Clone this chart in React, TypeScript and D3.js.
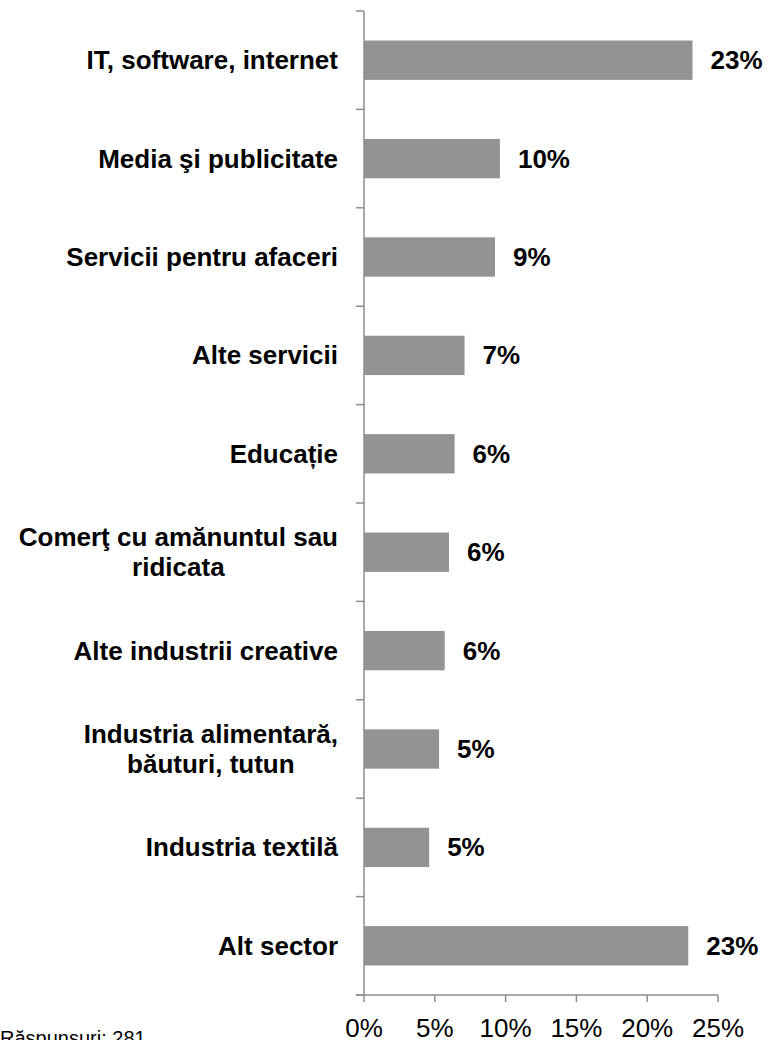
import React, { useEffect, useRef } from "react";
import * as d3 from "d3";

const categories: string[][] = [
  ["IT, software, internet"],
  ["Media şi publicitate"],
  ["Servicii pentru afaceri"],
  ["Alte servicii"],
  ["Educație"],
  ["Comerţ cu amănuntul sau", "ridicata"],
  ["Alte industrii creative"],
  ["Industria alimentară,", "băuturi, tutun"],
  ["Industria textilă"],
  ["Alt sector"],
];
const values: number[] = [23.2, 9.6, 9.25, 7.1, 6.4, 6.0, 5.7, 5.3, 4.6, 22.9];
const xTicks: number[] = [0, 5, 10, 15, 20, 25];
const footnote = "Răspunsuri: 281";

const W = 768;
const H = 1040;
const FONT = "'Liberation Sans', Arial, Helvetica, sans-serif";
const AXIS = "#8e8e8e";
const BAR = "#939393";

export default function App() {
  const ref = useRef<SVGSVGElement>(null);

  useEffect(() => {
    const svg = d3.select(ref.current);
    svg.selectAll("*").remove();

    const x = d3.scaleLinear().domain([0, 25]).range([364, 718]);
    const y = d3
      .scaleBand<number>()
      .domain(d3.range(categories.length))
      .range([11, 995])
      .paddingInner(0.6)
      .paddingOuter(0.3);

    const step = y.step();
    const top = 11;
    const bottom = 995;

    // bars
    svg
      .append("g")
      .selectAll("rect")
      .data(values)
      .join("rect")
      .attr("x", x(0))
      .attr("y", (_, i) => y(i)!)
      .attr("width", (d) => x(d) - x(0))
      .attr("height", y.bandwidth())
      .attr("fill", BAR);

    // axes
    const g = svg.append("g").attr("stroke", AXIS).attr("stroke-width", 1.5);
    g.append("line")
      .attr("x1", x(0))
      .attr("x2", x(0))
      .attr("y1", top)
      .attr("y2", bottom);
    g.selectAll("line.yt")
      .data(d3.range(categories.length + 1))
      .join("line")
      .attr("class", "yt")
      .attr("x1", x(0) - 8)
      .attr("x2", x(0))
      .attr("y1", (i) => top + i * step)
      .attr("y2", (i) => top + i * step);
    g.append("line")
      .attr("x1", x(0) - 8)
      .attr("x2", x(25))
      .attr("y1", bottom)
      .attr("y2", bottom);
    g.selectAll("line.xt")
      .data(xTicks)
      .join("line")
      .attr("class", "xt")
      .attr("x1", (d) => x(d))
      .attr("x2", (d) => x(d))
      .attr("y1", bottom)
      .attr("y2", bottom + 7);

    // x tick labels
    svg
      .append("g")
      .selectAll("text")
      .data(xTicks)
      .join("text")
      .attr("x", (d) => x(d))
      .attr("y", 1037)
      .attr("text-anchor", "middle")
      .attr("font-family", FONT)
      .attr("font-size", 26)
      .attr("fill", "#000")
      .text((d) => `${d}%`);

    // value labels
    svg
      .append("g")
      .selectAll("text")
      .data(values)
      .join("text")
      .attr("x", (d) => x(d) + 18)
      .attr("y", (_, i) => y(i)! + y.bandwidth() / 2 + 9)
      .attr("font-family", FONT)
      .attr("font-size", 26)
      .attr("font-weight", "bold")
      .attr("fill", "#000")
      .text((d) => `${Math.round(d)}%`);

    // category labels
    const right = 338;
    const lineH = 30;
    categories.forEach((lines, i) => {
      const cy = y(i)! + y.bandwidth() / 2;
      const grp = svg.append("g");
      const texts = lines.map((ln, k) =>
        grp
          .append("text")
          .attr("font-family", FONT)
          .attr("font-size", 26)
          .attr("font-weight", "bold")
          .attr("fill", "#000")
          .attr("y", cy + 9 + (k - (lines.length - 1) / 2) * lineH)
          .text(ln)
      );
      const widths = texts.map((t) => (t.node() as SVGTextElement).getComputedTextLength());
      const maxW = Math.max(...widths);
      const center = right - maxW / 2;
      texts.forEach((t) => t.attr("x", center).attr("text-anchor", "middle"));
    });

    // footnote
    svg
      .append("text")
      .attr("x", 0)
      .attr("y", 1045)
      .attr("font-family", FONT)
      .attr("font-size", 20)
      .attr("fill", "#000")
      .text(footnote);
  }, []);

  return (
    <svg
      ref={ref}
      width={W}
      height={H}
      style={{ position: "absolute", left: 0, top: 0, background: "#fff" }}
    />
  );
}
